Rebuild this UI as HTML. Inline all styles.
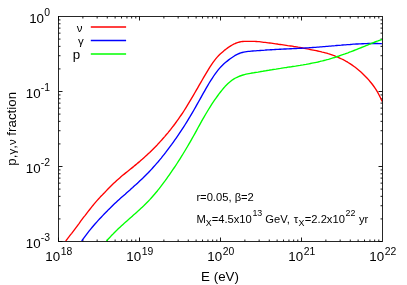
<!DOCTYPE html>
<html><head><meta charset="utf-8"><style>
html,body{margin:0;padding:0;background:#fff;}
svg{display:block;will-change:transform}
text{font-family:"Liberation Sans",sans-serif;font-size:13.33px;fill:#000}
.s{font-size:10.4px}
.a text{font-size:11.2px}
.a .as{font-size:8.9px}
</style></head><body>
<svg width="407" height="285" viewBox="0 0 407 285">
<rect width="407" height="285" fill="#fff"/>
<path d="M58.50 241.50v-4M58.50 16.50v4M82.88 241.50v-2M82.88 16.50v2M97.15 241.50v-2M97.15 16.50v2M107.27 241.50v-2M107.27 16.50v2M115.12 241.50v-2M115.12 16.50v2M121.53 241.50v-2M121.53 16.50v2M126.95 241.50v-2M126.95 16.50v2M131.65 241.50v-2M131.65 16.50v2M135.79 241.50v-2M135.79 16.50v2M139.50 241.50v-4M139.50 16.50v4M163.88 241.50v-2M163.88 16.50v2M178.15 241.50v-2M178.15 16.50v2M188.27 241.50v-2M188.27 16.50v2M196.12 241.50v-2M196.12 16.50v2M202.53 241.50v-2M202.53 16.50v2M207.95 241.50v-2M207.95 16.50v2M212.65 241.50v-2M212.65 16.50v2M216.79 241.50v-2M216.79 16.50v2M220.50 241.50v-4M220.50 16.50v4M244.88 241.50v-2M244.88 16.50v2M259.15 241.50v-2M259.15 16.50v2M269.27 241.50v-2M269.27 16.50v2M277.12 241.50v-2M277.12 16.50v2M283.53 241.50v-2M283.53 16.50v2M288.95 241.50v-2M288.95 16.50v2M293.65 241.50v-2M293.65 16.50v2M297.79 241.50v-2M297.79 16.50v2M301.50 241.50v-4M301.50 16.50v4M325.88 241.50v-2M325.88 16.50v2M340.15 241.50v-2M340.15 16.50v2M350.27 241.50v-2M350.27 16.50v2M358.12 241.50v-2M358.12 16.50v2M364.53 241.50v-2M364.53 16.50v2M369.95 241.50v-2M369.95 16.50v2M374.65 241.50v-2M374.65 16.50v2M378.79 241.50v-2M378.79 16.50v2M58.50 241.50h4M382.50 241.50h-4M58.50 218.92h2M382.50 218.92h-2M58.50 205.72h2M382.50 205.72h-2M58.50 196.35h2M382.50 196.35h-2M58.50 189.08h2M382.50 189.08h-2M58.50 183.14h2M382.50 183.14h-2M58.50 178.12h2M382.50 178.12h-2M58.50 173.77h2M382.50 173.77h-2M58.50 169.93h2M382.50 169.93h-2M58.50 166.50h4M382.50 166.50h-4M58.50 143.92h2M382.50 143.92h-2M58.50 130.72h2M382.50 130.72h-2M58.50 121.35h2M382.50 121.35h-2M58.50 114.08h2M382.50 114.08h-2M58.50 108.14h2M382.50 108.14h-2M58.50 103.12h2M382.50 103.12h-2M58.50 98.77h2M382.50 98.77h-2M58.50 94.93h2M382.50 94.93h-2M58.50 91.50h4M382.50 91.50h-4M58.50 68.92h2M382.50 68.92h-2M58.50 55.72h2M382.50 55.72h-2M58.50 46.35h2M382.50 46.35h-2M58.50 39.08h2M382.50 39.08h-2M58.50 33.14h2M382.50 33.14h-2M58.50 28.12h2M382.50 28.12h-2M58.50 23.77h2M382.50 23.77h-2M58.50 19.93h2M382.50 19.93h-2" stroke="#000" stroke-width="0.9" fill="none"/>
<g fill="none" stroke-width="1.35" stroke-linejoin="round">
<path d="M65.7 241.0L67.2 239.1L68.7 237.2L70.2 235.2L71.7 233.3L73.2 231.3L74.7 229.3L76.2 227.3L77.7 225.3L79.2 223.3L80.7 221.2L82.2 219.2L83.7 217.2L85.2 215.3L86.7 213.3L88.2 211.4L89.7 209.5L91.2 207.6L92.7 205.7L94.2 203.9L95.7 202.1L97.2 200.4L98.7 198.7L100.2 197.1L101.7 195.6L103.2 194.0L104.7 192.5L106.2 190.9L107.7 189.3L109.2 187.7L110.7 186.2L112.2 184.7L113.7 183.3L115.2 181.9L116.7 180.5L118.2 179.2L119.7 177.9L121.2 176.6L122.7 175.3L124.2 174.1L125.7 172.9L127.2 171.7L128.7 170.5L130.2 169.3L131.7 168.1L133.2 166.9L134.7 165.6L136.2 164.4L137.7 163.1L139.2 161.9L140.7 160.6L142.2 159.3L143.7 157.9L145.2 156.6L146.7 155.2L148.2 153.8L149.7 152.4L151.2 150.9L152.7 149.4L154.2 147.9L155.7 146.4L157.2 144.9L158.7 143.3L160.2 141.6L161.7 140.0L163.2 138.3L164.7 136.6L166.2 134.8L167.7 133.1L169.2 131.2L170.7 129.4L172.2 127.4L173.7 125.5L175.2 123.5L176.7 121.4L178.2 119.3L179.7 117.2L181.2 115.0L182.7 112.8L184.2 110.5L185.7 108.1L187.2 105.7L188.7 103.2L190.2 100.7L191.7 98.2L193.2 95.6L194.7 93.0L196.2 90.4L197.7 87.8L199.2 85.2L200.7 82.6L202.2 80.0L203.7 77.4L205.2 74.9L206.7 72.3L208.2 69.8L209.7 67.4L211.2 65.1L212.7 62.9L214.2 60.8L215.7 58.9L217.2 57.1L218.7 55.5L220.2 54.0L221.7 52.7L223.2 51.4L224.7 50.1L226.2 49.0L227.7 47.9L229.2 46.8L230.7 45.9L232.2 45.0L233.7 44.2L235.2 43.5L236.7 42.9L238.2 42.4L239.7 42.0L241.2 41.7L242.7 41.5L244.2 41.4L245.7 41.3L247.2 41.3L248.7 41.4L250.2 41.4L251.7 41.4L253.2 41.4L254.7 41.4L256.2 41.5L257.7 41.6L259.2 41.7L260.7 41.9L262.2 42.1L263.7 42.3L265.2 42.4L266.7 42.6L268.2 42.8L269.7 43.0L271.2 43.2L272.7 43.4L274.2 43.6L275.7 43.8L277.2 44.0L278.7 44.3L280.2 44.5L281.7 44.7L283.2 44.9L284.7 45.1L286.2 45.3L287.7 45.6L289.2 45.8L290.7 46.0L292.2 46.2L293.7 46.5L295.2 46.7L296.7 46.9L298.2 47.2L299.7 47.4L301.2 47.7L302.7 48.0L304.2 48.3L305.7 48.6L307.2 48.9L308.7 49.2L310.2 49.5L311.7 49.8L313.2 50.1L314.7 50.4L316.2 50.7L317.7 51.0L319.2 51.3L320.7 51.7L322.2 52.1L323.7 52.4L325.2 52.8L326.7 53.2L328.2 53.7L329.7 54.1L331.2 54.6L332.7 55.2L334.2 55.7L335.7 56.3L337.2 56.9L338.7 57.6L340.2 58.3L341.7 59.0L343.2 59.7L344.7 60.5L346.2 61.4L347.7 62.2L349.2 63.2L350.7 64.1L352.2 65.1L353.7 66.2L355.2 67.3L356.7 68.5L358.2 69.7L359.7 71.0L361.2 72.3L362.7 73.7L364.2 75.2L365.7 76.7L367.2 78.3L368.7 79.9L370.2 81.7L371.7 83.5L373.2 85.5L374.7 87.6L376.2 89.9L377.7 92.4L379.2 95.2L380.7 98.2L382.2 101.6" stroke="#ff0000"/>
<path d="M81.7 241.0L83.2 238.9L84.7 236.8L86.2 234.8L87.7 232.8L89.2 230.9L90.7 229.1L92.2 227.3L93.7 225.5L95.2 223.8L96.7 222.1L98.2 220.4L99.7 218.8L101.2 217.2L102.7 215.6L104.2 214.0L105.7 212.5L107.2 211.0L108.7 209.4L110.2 208.0L111.7 206.5L113.2 205.0L114.7 203.6L116.2 202.2L117.7 200.8L119.2 199.4L120.7 198.1L122.2 196.8L123.7 195.5L125.2 194.2L126.7 192.8L128.2 191.5L129.7 190.2L131.2 188.8L132.7 187.5L134.2 186.1L135.7 184.8L137.2 183.4L138.7 182.0L140.2 180.6L141.7 179.2L143.2 177.8L144.7 176.3L146.2 174.8L147.7 173.3L149.2 171.7L150.7 170.1L152.2 168.5L153.7 166.8L155.2 165.1L156.7 163.4L158.2 161.7L159.7 159.9L161.2 158.1L162.7 156.2L164.2 154.3L165.7 152.4L167.2 150.4L168.7 148.4L170.2 146.4L171.7 144.4L173.2 142.3L174.7 140.2L176.2 138.1L177.7 135.9L179.2 133.7L180.7 131.4L182.2 129.1L183.7 126.8L185.2 124.5L186.7 122.1L188.2 119.6L189.7 117.2L191.2 114.6L192.7 112.1L194.2 109.5L195.7 106.9L197.2 104.2L198.7 101.5L200.2 98.8L201.7 96.1L203.2 93.4L204.7 90.8L206.2 88.1L207.7 85.6L209.2 83.0L210.7 80.6L212.2 78.3L213.7 76.0L215.2 73.8L216.7 71.8L218.2 69.9L219.7 68.1L221.2 66.5L222.7 65.0L224.2 63.6L225.7 62.3L227.2 61.1L228.7 59.9L230.2 58.8L231.7 57.7L233.2 56.7L234.7 55.7L236.2 54.9L237.7 54.1L239.2 53.5L240.7 52.9L242.2 52.5L243.7 52.1L245.2 51.8L246.7 51.6L248.2 51.4L249.7 51.3L251.2 51.1L252.7 51.0L254.2 50.9L255.7 50.8L257.2 50.7L258.7 50.6L260.2 50.5L261.7 50.4L263.2 50.3L264.7 50.2L266.2 50.0L267.7 49.9L269.2 49.8L270.7 49.7L272.2 49.7L273.7 49.6L275.2 49.5L276.7 49.4L278.2 49.3L279.7 49.2L281.2 49.2L282.7 49.1L284.2 49.0L285.7 49.0L287.2 48.9L288.7 48.8L290.2 48.7L291.7 48.7L293.2 48.6L294.7 48.5L296.2 48.5L297.7 48.4L299.2 48.3L300.7 48.2L302.2 48.2L303.7 48.1L305.2 48.0L306.7 47.9L308.2 47.8L309.7 47.7L311.2 47.6L312.7 47.5L314.2 47.4L315.7 47.3L317.2 47.2L318.7 47.1L320.2 46.9L321.7 46.8L323.2 46.7L324.7 46.6L326.2 46.4L327.7 46.3L329.2 46.2L330.7 46.1L332.2 45.9L333.7 45.8L335.2 45.7L336.7 45.5L338.2 45.4L339.7 45.3L341.2 45.2L342.7 45.0L344.2 44.9L345.7 44.8L347.2 44.7L348.7 44.6L350.2 44.5L351.7 44.3L353.2 44.2L354.7 44.1L356.2 44.0L357.7 44.0L359.2 43.9L360.7 43.8L362.2 43.7L363.7 43.7L365.2 43.6L366.7 43.6L368.2 43.5L369.7 43.5L371.2 43.5L372.7 43.5L374.2 43.5L375.7 43.5L377.2 43.5L378.7 43.6L380.2 43.6L381.7 43.7L381.9 43.7" stroke="#0000ff"/>
<path d="M106.5 241.0L108.0 239.3L109.5 237.7L111.0 236.1L112.5 234.6L114.0 233.0L115.5 231.5L117.0 230.1L118.5 228.6L120.0 227.2L121.5 225.8L123.0 224.4L124.5 223.1L126.0 221.7L127.5 220.4L129.0 219.1L130.5 217.7L132.0 216.4L133.5 215.1L135.0 213.8L136.5 212.4L138.0 211.1L139.5 209.7L141.0 208.3L142.5 206.9L144.0 205.5L145.5 204.0L147.0 202.5L148.5 201.0L150.0 199.4L151.5 197.7L153.0 196.0L154.5 194.3L156.0 192.5L157.5 190.7L159.0 188.8L160.5 186.9L162.0 184.9L163.5 182.9L165.0 180.9L166.5 178.8L168.0 176.7L169.5 174.6L171.0 172.4L172.5 170.2L174.0 168.0L175.5 165.8L177.0 163.5L178.5 161.2L180.0 158.8L181.5 156.4L183.0 154.0L184.5 151.5L186.0 149.0L187.5 146.5L189.0 143.9L190.5 141.3L192.0 138.7L193.5 136.0L195.0 133.3L196.5 130.6L198.0 127.8L199.5 125.1L201.0 122.4L202.5 119.7L204.0 117.1L205.5 114.5L207.0 112.0L208.5 109.5L210.0 107.1L211.5 104.7L213.0 102.4L214.5 100.2L216.0 98.1L217.5 96.0L219.0 93.9L220.5 92.0L222.0 90.1L223.5 88.3L225.0 86.6L226.5 85.1L228.0 83.6L229.5 82.2L231.0 81.0L232.5 79.8L234.0 78.9L235.5 78.0L237.0 77.3L238.5 76.6L240.0 76.0L241.5 75.5L243.0 75.0L244.5 74.6L246.0 74.2L247.5 73.9L249.0 73.6L250.5 73.3L252.0 73.0L253.5 72.8L255.0 72.5L256.5 72.3L258.0 72.1L259.5 71.8L261.0 71.5L262.5 71.3L264.0 71.0L265.5 70.8L267.0 70.5L268.5 70.3L270.0 70.0L271.5 69.8L273.0 69.5L274.5 69.3L276.0 69.1L277.5 68.8L279.0 68.6L280.5 68.4L282.0 68.1L283.5 67.9L285.0 67.7L286.5 67.5L288.0 67.2L289.5 67.0L291.0 66.8L292.5 66.5L294.0 66.3L295.5 66.1L297.0 65.8L298.5 65.6L300.0 65.4L301.5 65.1L303.0 64.9L304.5 64.6L306.0 64.4L307.5 64.1L309.0 63.8L310.5 63.5L312.0 63.2L313.5 62.9L315.0 62.6L316.5 62.3L318.0 62.0L319.5 61.6L321.0 61.2L322.5 60.9L324.0 60.5L325.5 60.1L327.0 59.7L328.5 59.3L330.0 58.8L331.5 58.4L333.0 57.9L334.5 57.5L336.0 57.0L337.5 56.5L339.0 56.0L340.5 55.4L342.0 54.9L343.5 54.4L345.0 53.9L346.5 53.3L348.0 52.8L349.5 52.2L351.0 51.7L352.5 51.1L354.0 50.5L355.5 49.9L357.0 49.3L358.5 48.7L360.0 48.1L361.5 47.5L363.0 46.9L364.5 46.3L366.0 45.7L367.5 45.1L369.0 44.4L370.5 43.8L372.0 43.2L373.5 42.6L375.0 42.0L376.5 41.4L378.0 40.9L379.5 40.3L381.0 39.8L381.9 39.5" stroke="#00ff00"/>
<path d="M90.8 27H126.1" stroke="#ff0000"/>
<path d="M90.8 40.5H126.1" stroke="#0000ff"/>
<path d="M90.8 54H126.1" stroke="#00ff00"/>
</g>
<rect x="58.5" y="16.5" width="324.0" height="225.0" fill="none" stroke="#000" stroke-width="0.85"/>
<g text-anchor="end">
<text x="50.1" y="22.7">10<tspan class="s" dx="0.3" dy="-6.5">0</tspan></text>
<text x="50.1" y="97.7">10<tspan class="s" dx="0.3" dy="-6.5">-1</tspan></text>
<text x="50.1" y="172.7">10<tspan class="s" dx="0.3" dy="-6.5">-2</tspan></text>
<text x="50.1" y="247.7">10<tspan class="s" dx="0.3" dy="-6.5">-3</tspan></text>
<text x="82.5" y="31.7" style="font-size:11.5px">ν</text>
<text x="83.8" y="45" style="font-size:11.5px">γ</text>
<text x="80.2" y="59">p</text>
</g>
<g text-anchor="middle">
<text x="58.8" y="260.8">10<tspan class="s" dx="0.5" dy="-6.1">18</tspan></text>
<text x="139.8" y="260.8">10<tspan class="s" dx="0.5" dy="-6.1">19</tspan></text>
<text x="220.8" y="260.8">10<tspan class="s" dx="0.5" dy="-6.1">20</tspan></text>
<text x="301.8" y="260.8">10<tspan class="s" dx="0.5" dy="-6.1">21</tspan></text>
<text x="382.8" y="260.8">10<tspan class="s" dx="0.5" dy="-6.1">22</tspan></text>
<text x="220" y="280.6">E (eV)</text>
<text transform="translate(15.6,128.8) rotate(-90)">p,<tspan style="font-size:11.5px">γ</tspan>,<tspan style="font-size:11.5px">ν</tspan> fraction</text>
</g>
<g class="a">
<text x="196.4" y="201">r=0.05, β=2</text>
<text x="196.4" y="223.1">M<tspan class="as" dy="2.5">X</tspan><tspan dy="-2.5">=4.5x10</tspan><tspan class="as" dx="0.6" dy="-7">13</tspan><tspan dy="7"> GeV, </tspan><tspan dx="0.7">τ</tspan><tspan class="as" dx="0.5" dy="2.5">X</tspan><tspan dx="0.3" dy="-2.5">=2.2x10</tspan><tspan class="as" dx="0.6" dy="-7">22</tspan><tspan dx="0.4" dy="7"> yr</tspan></text>
</g>
</svg>
</body></html>
